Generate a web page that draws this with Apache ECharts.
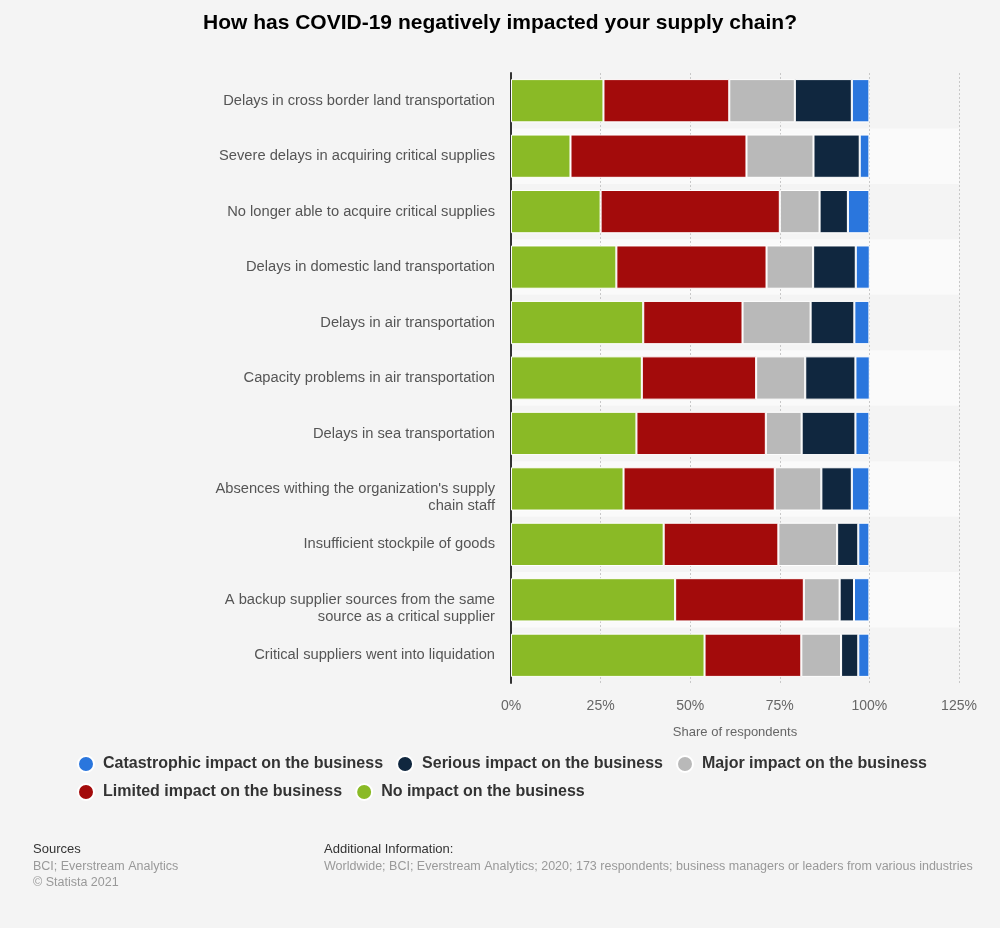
<!DOCTYPE html>
<html><head><meta charset="utf-8">
<script src="https://cdn.jsdelivr.net/npm/echarts@6/dist/echarts.min.js"></script>
<style>html,body{margin:0;padding:0;background:#f4f4f4;}#c{width:1000px;height:928px;}</style>
</head><body><div id="c"></div>
<script>
const categories = [
  "Delays in cross border land transportation",
  "Severe delays in acquiring critical supplies",
  "No longer able to acquire critical supplies",
  "Delays in domestic land transportation",
  "Delays in air transportation",
  "Capacity problems in air transportation",
  "Delays in sea transportation",
  "Absences withing the organization's supply\nchain staff",
  "Insufficient stockpile of goods",
  "A backup supplier sources from the same\nsource as a critical supplier",
  "Critical suppliers went into liquidation"
];
const noImpact      = [25.8, 16.6, 25.0, 29.4, 36.9, 36.5, 35.0, 31.4, 42.6, 45.8, 54.0];
const limitedImpact = [35.1, 49.1, 50.0, 41.9, 27.7, 31.9, 36.1, 42.2, 32.0, 35.9, 27.0];
const majorImpact   = [18.3, 18.7, 11.1, 13.0, 19.0, 13.7, 10.0, 13.0, 16.4, 10.0, 11.1];
const seriousImpact = [15.9, 12.9,  7.9, 11.9, 12.2, 14.0, 15.0,  8.5,  5.9,  4.0,  4.8];
const catastrophic  = [ 4.9,  2.7,  6.0,  3.9,  4.2,  4.0,  3.9,  4.9,  3.1,  4.3,  3.1];
const seriesNames = [
  "No impact on the business",
  "Limited impact on the business",
  "Major impact on the business",
  "Serious impact on the business",
  "Catastrophic impact on the business"
];
const legendRow1 = [
  "Catastrophic impact on the business",
  "Serious impact on the business",
  "Major impact on the business"
];
const legendRow2 = [
  "Limited impact on the business",
  "No impact on the business"
];
const colors = ["#8aba26", "#a30b0b", "#b9b9b9", "#10273f", "#2a76dd"];
const seriesData = [noImpact, limitedImpact, majorImpact, seriousImpact, catastrophic];

const chart = echarts.init(document.getElementById('c'), null, {renderer: 'canvas'});
const FONT = '"Liberation Sans", Arial, sans-serif';
const legendBase = {
  left: 72, width: 920, padding: [5, 5, 5, 5],
  icon: 'circle', itemWidth: 16, itemHeight: 16, itemGap: 13,
  textStyle: {fontFamily: FONT, fontSize: 16, fontWeight: 'bold', color: '#333', padding: [0, 0, 0, 4]}
};
chart.setOption({
  backgroundColor: '#f4f4f4',
  animation: false,
  textStyle: {fontFamily: FONT},
  title: {
    text: 'How has COVID-19 negatively impacted your supply chain?',
    left: 'center', top: 8,
    textStyle: {fontFamily: FONT, fontSize: 21, fontWeight: 'bold', color: '#000'}
  },
  legend: [
    Object.assign({}, legendBase, {data: legendRow1, top: 750}),
    Object.assign({}, legendBase, {data: legendRow2, top: 778})
  ],
  grid: {left: 511, right: 41, top: 73, bottom: 245, containLabel: false},
  xAxis: {
    type: 'value', min: 0, max: 125, interval: 25,
    name: 'Share of respondents', nameLocation: 'middle', nameGap: 43,
    nameTextStyle: {fontFamily: FONT, fontSize: 13, color: '#666'},
    axisLine: {show: false}, axisTick: {show: false},
    axisLabel: {formatter: '{value}%', fontFamily: FONT, fontSize: 14, color: '#666', margin: 16},
    splitLine: {show: true, lineStyle: {color: '#c8c8c8', type: [2, 2], width: 1}}
  },
  yAxis: {
    type: 'category', data: categories, inverse: true,
    axisLine: {show: true, lineStyle: {color: '#333', width: 2}},
    axisTick: {show: false},
    axisLabel: {
      fontFamily: FONT, fontSize: 14.7, color: '#555', margin: 16, lineHeight: 17, align: 'right',
      formatter: v => v.indexOf('\n') >= 0 ? '\n' + v : v
    },
    splitArea: {show: true, areaStyle: {color: ['rgba(0,0,0,0)', '#fafafa']}}
  },
  series: seriesNames.map((n, i) => ({
    name: n, type: 'bar', stack: 'total', data: seriesData[i],
    barWidth: '78%',
    itemStyle: {color: colors[i], borderColor: '#ffffff', borderWidth: 1},
    emphasis: {disabled: true}
  })),
  color: colors,
  graphic: [
    {type: 'text', left: 33, top: 843, style: {text: 'Sources', font: '13px ' + FONT, fill: '#333'}},
    {type: 'text', left: 33, top: 860, style: {text: 'BCI; Everstream Analytics', font: '12.5px ' + FONT, fill: '#999'}},
    {type: 'text', left: 33, top: 876, style: {text: '© Statista 2021', font: '12.5px ' + FONT, fill: '#999'}},
    {type: 'text', left: 324, top: 843, style: {text: 'Additional Information:', font: '13px ' + FONT, fill: '#333'}},
    {type: 'text', left: 324, top: 860, style: {text: 'Worldwide; BCI; Everstream Analytics; 2020; 173 respondents; business managers or leaders from various industries', font: '12.5px ' + FONT, fill: '#999'}}
  ]
});
</script></body></html>
